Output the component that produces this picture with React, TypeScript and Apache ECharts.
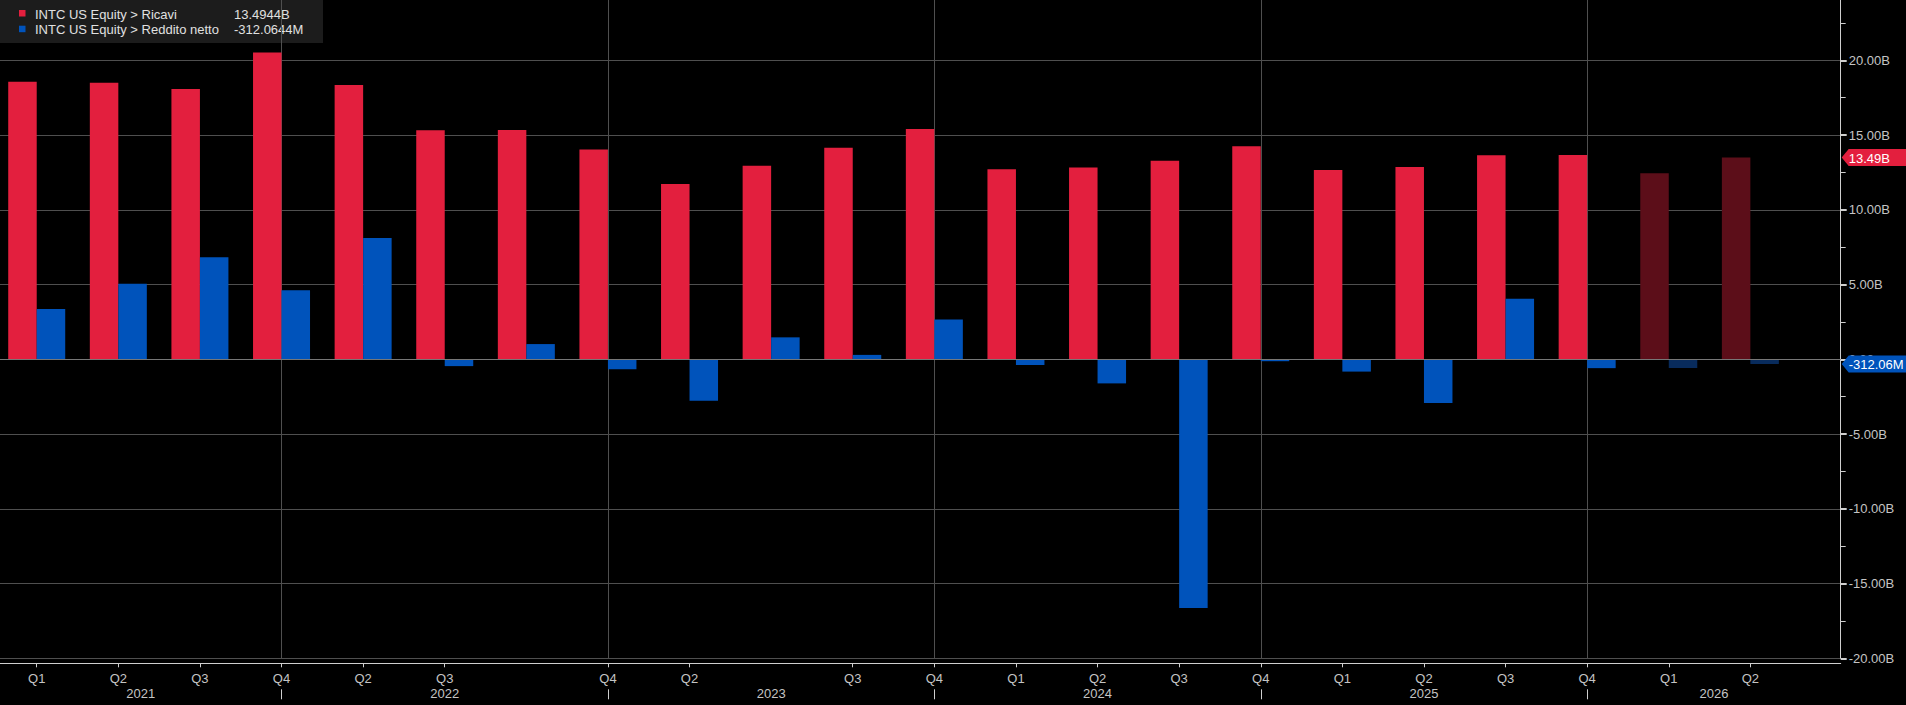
import React, { useEffect, useRef } from 'react';
import * as echarts from 'echarts';

// ---- data ----
const quarterLabels = ['Q1', 'Q2', 'Q3', 'Q4', 'Q2', 'Q3', '', 'Q4', 'Q2', '', 'Q3', 'Q4', 'Q1', 'Q2', 'Q3', 'Q4', 'Q1', 'Q2', 'Q3', 'Q4', 'Q1', 'Q2'];
const yearLabels = ['2021', '2022', '2023', '2024', '2025', '2026'];
const yearDividerIdx = [3, 7, 11, 15, 19];
const revenue = [18.57, 18.5, 18.09, 20.53, 18.35, 15.32, 15.34, 14.04, 11.72, 12.95, 14.16, 15.41, 12.72, 12.83, 13.28, 14.26, 12.67, 12.86, 13.65, 13.67, 12.44, 13.4944];
const netIncome = [3.36, 5.06, 6.82, 4.62, 8.11, -0.454, 1.02, -0.664, -2.77, 1.47, 0.297, 2.67, -0.381, -1.61, -16.64, -0.126, -0.821, -2.92, 4.06, -0.59, -0.58, -0.3120644];
const estimateFrom = 20;
const seriesNames = ['INTC US Equity > Ricavi', 'INTC US Equity > Reddito netto'];
const yMin = -20;
const yMax = 25;
const yStep = 5;

// ---- styles ----
const RED = '#e31f3e';
const BLUE = '#0053bb';
const RED_EST = '#5c0e19';
const BLUE_EST = '#082b5c';
const TXT = '#c4c4c4';
const GRID = '#4f4f4f';
const FONT = '"Liberation Sans", Arial, sans-serif';

const X_MIN = -0.45;
const X_MAX = 22.107;

const fmtLong = (v: number) => (Math.abs(v) >= 1 ? v.toFixed(4) + 'B' : (v * 1000).toFixed(4) + 'M');
const fmtShort = (v: number) => (Math.abs(v) >= 1 ? v.toFixed(2) + 'B' : (v * 1000).toFixed(2) + 'M');

export default function App() {
  const ref = useRef<HTMLDivElement>(null);

  useEffect(() => {
    if (!ref.current) return;
    const chart = echarts.init(ref.current, null, { renderer: 'svg' });

    const labeledIdx = quarterLabels.map((l, i) => (l ? i : -1)).filter((i) => i >= 0);
    const bounds = [X_MIN, ...yearDividerIdx, X_MAX];
    const yearPos = yearLabels.map((_, k) => (bounds[k] + bounds[k + 1]) / 2);

    const mk = (vals: number[], color: string, est: string) =>
      vals.map((v, i) => ({
        value: [i, v],
        itemStyle: { color: i >= estimateFrom ? est : color },
      }));

    const lastRev = revenue[revenue.length - 1];
    const lastNi = netIncome[netIncome.length - 1];

    const tagItem = (val: number, color: string) => ({
      value: [X_MAX, val],
      itemStyle: { color, opacity: 1 },
      label: { formatter: () => fmtShort(val) },
    });

    chart.setOption({
      animation: false,
      backgroundColor: '#000000',
      grid: { left: 0, right: 65.3, top: -14.4, bottom: 46.7, containLabel: false, outerBoundsMode: 'none' },
      xAxis: [
        {
          type: 'value',
          min: X_MIN,
          max: X_MAX,
          position: 'bottom',
          offset: 5,
          axisLine: { show: true, onZero: false, lineStyle: { color: '#cfcfcf', width: 1 } },
          axisTick: { show: true, customValues: labeledIdx, length: 4, lineStyle: { color: '#cfcfcf' } },
          axisLabel: {
            customValues: labeledIdx,
            formatter: (v: number) => quarterLabels[Math.round(v)] ?? '',
            color: TXT,
            fontSize: 13,
            fontFamily: FONT,
            verticalAlign: 'middle',
            margin: 15,
          },
          splitLine: { show: false },
        },
        {
          type: 'value',
          min: X_MIN,
          max: X_MAX,
          position: 'bottom',
          offset: 31,
          axisLine: { show: false, onZero: false },
          axisTick: { show: true, customValues: yearDividerIdx, length: 10, lineStyle: { color: '#cfcfcf' } },
          axisLabel: {
            customValues: yearPos,
            formatter: (v: number) => {
              let best = 0;
              yearPos.forEach((p, k) => {
                if (Math.abs(p - v) < Math.abs(yearPos[best] - v)) best = k;
              });
              return yearLabels[best];
            },
            color: TXT,
            fontSize: 13,
            fontFamily: FONT,
            verticalAlign: 'middle',
            margin: 4.5,
          },
          splitLine: { show: true, lineStyle: { color: GRID, width: 1 } },
        },
      ],
      yAxis: {
        type: 'value',
        position: 'right',
        min: yMin,
        max: yMax,
        interval: yStep,
        axisLine: { show: true, onZero: false, lineStyle: { color: '#cfcfcf', width: 1 } },
        axisTick: { show: true, length: 6, lineStyle: { color: '#cfcfcf', width: 2 } },
        minorTick: { show: true, splitNumber: 2, length: 5, lineStyle: { color: '#cfcfcf', width: 1 } },
        minorSplitLine: { show: false },
        axisLabel: {
          color: TXT,
          fontSize: 13,
          fontFamily: FONT,
          margin: 8,
          showMaxLabel: false,
          formatter: (v: number) => (v === 0 ? '0.00' : v.toFixed(2) + 'B'),
        },
        splitLine: { show: true, lineStyle: { color: GRID, width: 1 } },
      },
      series: [
        {
          name: seriesNames[0],
          type: 'bar',
          xAxisIndex: 0,
          barWidth: 28.5,
          barGap: '0%',
          data: mk(revenue, RED, RED_EST),
          markLine: {
            silent: true,
            symbol: 'none',
            label: { show: false },
            lineStyle: { color: '#777777', type: 'solid', width: 1 },
            data: [{ yAxis: 0 }],
          },
        },
        {
          name: seriesNames[1],
          type: 'bar',
          xAxisIndex: 0,
          barWidth: 28.5,
          barGap: '0%',
          data: mk(netIncome, BLUE, BLUE_EST),
        },
        {
          name: 'tags',
          type: 'scatter',
          xAxisIndex: 0,
          clip: false,
          silent: true,
          z: 10,
          symbol: 'path://M0,8.5 L7,0 L80,0 L80,17 L7,17 Z',
          symbolSize: [80, 17],
          symbolKeepAspect: false,
          symbolOffset: [41, 0],
          itemStyle: { opacity: 1 },
          label: {
            show: true,
            position: [7, 9],
            align: 'left',
            verticalAlign: 'middle',
            color: '#ffffff',
            fontSize: 13,
            fontFamily: FONT,
          },
          data: [tagItem(lastRev, RED), tagItem(lastNi, BLUE)],
        },
      ],
      graphic: [
        {
          type: 'group',
          z: 100,
          children: [
            { type: 'rect', shape: { x: 0, y: 0, width: 323, height: 43 }, style: { fill: '#1c1c1c' } },
            { type: 'rect', shape: { x: 19, y: 10, width: 6.5, height: 6.5 }, style: { fill: RED } },
            { type: 'rect', shape: { x: 19, y: 25.7, width: 6.5, height: 6.5 }, style: { fill: BLUE } },
            { type: 'text', x: 35, y: 14, style: { text: seriesNames[0], fill: '#e0e0e0', fontSize: 13, fontFamily: FONT, verticalAlign: 'middle' } },
            { type: 'text', x: 35, y: 29.5, style: { text: seriesNames[1], fill: '#e0e0e0', fontSize: 13, fontFamily: FONT, verticalAlign: 'middle' } },
            { type: 'text', x: 234, y: 14, style: { text: fmtLong(lastRev), fill: '#e0e0e0', fontSize: 13, fontFamily: FONT, verticalAlign: 'middle' } },
            { type: 'text', x: 234, y: 29.5, style: { text: fmtLong(lastNi), fill: '#e0e0e0', fontSize: 13, fontFamily: FONT, verticalAlign: 'middle' } },
          ],
        },
      ],
    });

    return () => chart.dispose();
  }, []);

  return (
    <div
      ref={ref}
      style={{ position: 'fixed', left: 0, top: 0, width: 1906, height: 705, background: '#000' }}
    />
  );
}
